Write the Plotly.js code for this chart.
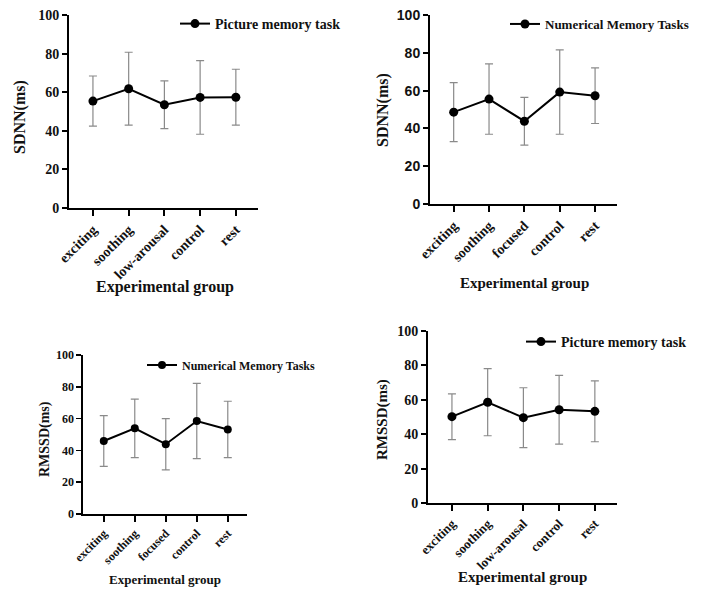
<!DOCTYPE html>
<html>
<head>
<meta charset="utf-8">
<script src="https://cdn.plot.ly/plotly-3.0.1.min.js"></script>
<style>html,body{margin:0;padding:0;background:#fff}#chart{width:705px;height:590px}</style>
</head>
<body>
<div id="chart"></div>
<script>
// Categories
const catsA = ["exciting", "soothing", "low-arousal", "control", "rest"];
const catsB = ["exciting", "soothing", "focused", "control", "rest"];

// Panel 1: SDNN, Picture memory task
const sdnnPicMean = [55.4, 61.8, 53.5, 57.3, 57.4];
const sdnnPicSD   = [13.0, 18.9, 12.4, 19.1, 14.5];
// Panel 2: SDNN, Numerical Memory Tasks
const sdnnNumMean = [48.6, 55.5, 43.8, 59.2, 57.3];
const sdnnNumSD   = [15.6, 18.6, 12.6, 22.3, 14.7];
// Panel 3: RMSSD, Numerical Memory Tasks
const rmssdNumMean = [45.9, 53.9, 43.9, 58.5, 53.2];
const rmssdNumSD   = [16.0, 18.4, 16.1, 23.7, 17.7];
// Panel 4: RMSSD, Picture memory task
const rmssdPicMean = [50.2, 58.6, 49.6, 54.2, 53.3];
const rmssdPicSD   = [13.3, 19.5, 17.4, 20.0, 17.7];

const yTicks = [0, 20, 40, 60, 80, 100];
const W = 705, H = 590;
const serif = "Liberation Serif, Times New Roman, serif";
const sans = "Liberation Sans, Arial, sans-serif";

function px(x){ return x / W; }
function py(y){ return 1 - y / H; }

function trace(cats, mean, sd, name, xa, ya, leg, msize){
  return {
    type: "scatter", mode: "lines+markers",
    x: cats, y: mean, name: name,
    xaxis: xa, yaxis: ya, legend: leg,
    line: {color: "#000", width: 2},
    marker: {color: "#000", size: msize},
    error_y: {type: "data", array: sd, visible: true, color: "#8a8a8a", thickness: 1.2, width: 4}
  };
}

const data = [
  trace(catsA, sdnnPicMean, sdnnPicSD, "Picture memory task", "x", "y", "legend", 9),
  trace(catsB, sdnnNumMean, sdnnNumSD, "Numerical Memory Tasks", "x2", "y2", "legend2", 9),
  trace(catsB, rmssdNumMean, rmssdNumSD, "Numerical Memory Tasks", "x3", "y3", "legend3", 8),
  trace(catsA, rmssdPicMean, rmssdPicSD, "Picture memory task", "x4", "y4", "legend4", 9)
];

function xax(l, r, anchor, size, lw){
  return {domain: [px(l), px(r)], anchor: anchor, range: [-0.67, 4.62],
    showline: true, linecolor: "#000", linewidth: lw, ticks: "outside", ticklen: 6, tickwidth: lw, tickcolor: "#000",
    showgrid: false, zeroline: false, tickangle: -45, fixedrange: true,
    tickfont: {family: serif, size: size, color: "#111", weight: "bold"}};
}
function yax(t, b, anchor, font, lw){
  return {domain: [py(b), py(t)], anchor: anchor, range: [0, 100], tickvals: yTicks,
    showline: true, linecolor: "#000", linewidth: lw, ticks: "outside", ticklen: 5, tickwidth: lw, tickcolor: "#000",
    showgrid: false, zeroline: false, fixedrange: true, tickfont: font};
}

function leg(x, y, size){
  return {x: px(x), y: py(y), xanchor: "left", yanchor: "middle", bgcolor: "rgba(0,0,0,0)",
    font: {family: serif, size: size, color: "#111", weight: "bold"}};
}

function ann(text, x, y, size, angle){
  return {text: text, x: px(x), y: py(y), xref: "paper", yref: "paper", showarrow: false,
    xanchor: "center", yanchor: "middle", textangle: angle || 0,
    font: {family: serif, size: size, color: "#111", weight: "bold"}};
}

const layout = {
  width: W, height: H,
  margin: {l: 0, r: 0, t: 0, b: 0},
  paper_bgcolor: "#fff", plot_bgcolor: "rgba(0,0,0,0)",
  showlegend: true,
  xaxis: xax(69, 258, "y", 14, 2),
  yaxis: yax(15, 208, "x", {family: serif, size: 14, color: "#111", weight: "bold"}, 2),
  xaxis2: xax(430, 617, "y2", 14, 2),
  yaxis2: yax(15, 204, "x2", {family: sans, size: 14, color: "#111", weight: "bold"}, 2),
  xaxis3: xax(83, 247, "y3", 12, 1.6),
  yaxis3: yax(355, 514, "x3", {family: serif, size: 12, color: "#111", weight: "bold"}, 1.6),
  xaxis4: xax(428, 617, "y4", 13, 2),
  yaxis4: yax(331, 503, "x4", {family: serif, size: 14, color: "#111", weight: "bold"}, 2),
  legend: leg(175, 24, 14),
  legend2: leg(505, 24, 13),
  legend3: leg(142, 365, 12),
  legend4: leg(521, 342, 14),
  annotations: [
    ann("SDNN(ms)", 20, 117, 16, -90),
    ann("Experimental group", 165, 287, 16),
    ann("SDNN(ms)", 383, 110, 16, -90),
    ann("Experimental group", 524, 283, 15),
    ann("RMSSD(ms)", 45, 439, 14, -90),
    ann("Experimental group", 165, 579, 13),
    ann("RMSSD(ms)", 382, 420, 15, -90),
    ann("Experimental group", 522, 577, 15)
  ]
};

Plotly.newPlot("chart", data, layout, {displayModeBar: false, staticPlot: true});
</script>
</body>
</html>
